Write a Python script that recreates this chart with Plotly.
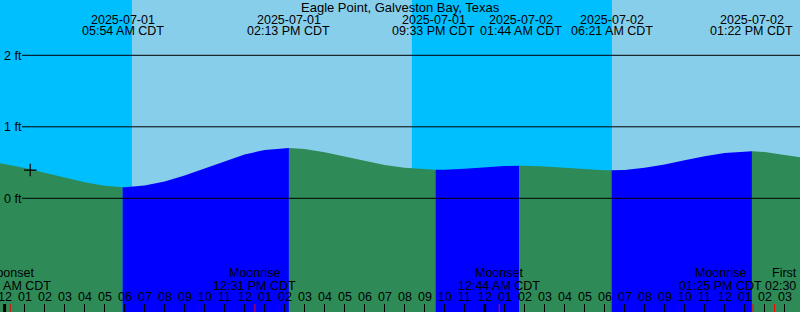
import plotly.graph_objects as go

# ---------------- data (hours since 2025-07-01 00:00 CDT) ----------------
station = "Eagle Point, Galveston Bay, Texas"

sample_hours = [-0.23, 0, 1, 2, 3, 4, 5, 6, 7, 8, 9, 10, 11, 12, 13, 14, 15, 16, 17, 18, 19,
                20, 21, 22, 23, 24, 25, 26, 27, 28, 29, 30, 31, 32, 33, 34, 35, 36, 37, 38, 39, 39.77]
sample_levels = [0.490, 0.480, 0.424, 0.357, 0.287, 0.224, 0.176, 0.154, 0.178, 0.234, 0.319,
                 0.417, 0.522, 0.613, 0.676, 0.702, 0.690, 0.643, 0.582, 0.517, 0.466,
                 0.428, 0.404, 0.401, 0.415, 0.435, 0.452, 0.456, 0.445, 0.425, 0.404,
                 0.393, 0.397, 0.427, 0.474, 0.533, 0.589, 0.634, 0.656, 0.648, 0.606, 0.573]

tide_hours = [5.9, 14.217, 21.55, 25.733, 30.35, 37.367]
tide_levels = [0.154, 0.703, 0.400, 0.456, 0.392, 0.657]
tide_dates = ["2025-07-01", "2025-07-01", "2025-07-01", "2025-07-02", "2025-07-02", "2025-07-02"]
tide_times = ["05:54 AM CDT", "02:13 PM CDT", "09:33 PM CDT", "01:44 AM CDT", "06:21 AM CDT", "01:22 PM CDT"]

sun_hours = [6.367, 20.367, 30.367]          # sunrise, sunset, sunrise

moon_hours = [0.283, 12.517, 24.733, 37.417, 38.5]
moon_names = ["Moonset", "Moonrise", "Moonset", "Moonrise", "First Quarter"]
moon_times = ["12:17 AM CDT", "12:31 PM CDT", "12:44 AM CDT", "01:25 PM CDT", "02:30 PM CDT"]

hour_ticks = list(range(0, 41))
hour_labels = ["12", "01", "02", "03", "04", "05", "06", "07", "08", "09", "10", "11",
               "12", "01", "02", "03", "04", "05", "06", "07", "08", "09", "10", "11",
               "12", "01", "02", "03", "04", "05", "06", "07", "08", "09", "10", "11",
               "12", "01", "02", "03", "04"]
midnight_hours = [0, 24]

level_ticks = [0, 1, 2]
level_labels = ["0 ft", "1 ft", "2 ft"]

now_hour = 1.28
now_level = 0.395

# ---------------- style ----------------
X_RANGE = [-0.23, 39.77]
Y_RANGE = [-1.5902, 2.7734]
W, H = 800, 312
NIGHT = "#00BFFF"
DAY = "#87CEEB"
FLOOD = "#0000FF"
EBB = "#2E8B57"
FONT = dict(family="Liberation Sans, Arial, sans-serif", size=12.5, color="black")
TITLE_FONT = dict(family="Liberation Sans, Arial, sans-serif", size=13, color="black")
tide_shift = [0, 0, -2, 2, 0, 0]
moon_shift = [0, 0, 0, -32, 32]


def ypaper(px):
    return 1 - px / H


fig = go.Figure()

# tide curve filled segments (rising = flood blue, falling = ebb green)
pts = sorted(list(zip(sample_hours, sample_levels)) + list(zip(tide_hours, tide_levels)))
edges = [X_RANGE[0]] + tide_hours + [X_RANGE[1]]
ybot = Y_RANGE[0] - 1
for a, b in zip(edges[:-1], edges[1:]):
    seg = [p for p in pts if a <= p[0] <= b]
    xs = [p[0] for p in seg]
    ys = [p[1] for p in seg]
    rising = ys[-1] > ys[0]
    fig.add_trace(go.Scatter(
        x=xs + [b, a], y=ys + [ybot, ybot], mode="lines", fill="toself",
        fillcolor=FLOOD if rising else EBB, line=dict(width=0), hoverinfo="skip",
        showlegend=False))

# current-time marker
fig.add_trace(go.Scatter(x=[now_hour], y=[now_level], mode="markers",
                         marker=dict(symbol="cross-thin", size=9, line=dict(width=1.2, color="black")),
                         showlegend=False, hoverinfo="skip"))

shapes = []
# sky: night / day bands
sky_edges = [X_RANGE[0] - 1] + sun_hours + [X_RANGE[1] + 1]
for i, (a, b) in enumerate(zip(sky_edges[:-1], sky_edges[1:])):
    shapes.append(dict(type="rect", xref="x", yref="paper", x0=a, x1=b, y0=0, y1=1,
                       fillcolor=NIGHT if i % 2 == 0 else DAY, line=dict(width=0), layer="below"))
# level lines
for lv in level_ticks:
    shapes.append(dict(type="line", xref="paper", yref="y", x0=22 / W, x1=1, y0=lv, y1=lv,
                       line=dict(color="black", width=1), layer="above"))
# midnight ticks
for mh in midnight_hours:
    shapes.append(dict(type="line", xref="x", yref="paper", x0=mh, x1=mh, y0=0, y1=8 / H,
                       line=dict(color="black", width=3), layer="above"))
# moon event ticks
for mh in moon_hours:
    shapes.append(dict(type="line", xref="x", yref="paper", x0=mh, x1=mh, y0=0, y1=8 / H,
                       line=dict(color="red", width=1), layer="above"))

annotations = [dict(text=station, xref="paper", yref="paper", x=0.5, y=ypaper(7.2),
                    xanchor="center", yanchor="middle", showarrow=False, font=TITLE_FONT)]
for h, d, t, s in zip(tide_hours, tide_dates, tide_times, tide_shift):
    annotations.append(dict(text=d, xref="x", yref="paper", x=h, y=ypaper(19.5), xshift=s,
                            xanchor="center", yanchor="middle", showarrow=False, font=FONT))
    annotations.append(dict(text=t, xref="x", yref="paper", x=h, y=ypaper(31.3), xshift=s,
                            xanchor="center", yanchor="middle", showarrow=False, font=FONT))
for h, n, t, s in zip(moon_hours, moon_names, moon_times, moon_shift):
    annotations.append(dict(text=n, xref="x", yref="paper", x=h, y=ypaper(273.3), xshift=s,
                            xanchor="center", yanchor="middle", showarrow=False, font=FONT))
    annotations.append(dict(text=t, xref="x", yref="paper", x=h, y=ypaper(285.5), xshift=s,
                            xanchor="center", yanchor="middle", showarrow=False, font=FONT))
# hour labels along the time axis
for h, lab in zip(hour_ticks, hour_labels):
    annotations.append(dict(text=lab, xref="x", yref="paper", x=h, y=ypaper(297.2),
                            xanchor="center", yanchor="middle", showarrow=False, font=FONT))

fig.update_layout(
    width=W, height=H, margin=dict(l=0, r=0, t=0, b=0), autosize=False,
    paper_bgcolor=NIGHT, plot_bgcolor=NIGHT, showlegend=False,
    font=FONT, shapes=shapes, annotations=annotations,
    xaxis=dict(range=X_RANGE, fixedrange=True, showgrid=False, zeroline=False, showline=False,
               tickmode="array", tickvals=hour_ticks, showticklabels=False,
               ticks="inside", ticklen=8, tickwidth=1, tickcolor="black"),
    yaxis=dict(range=Y_RANGE, fixedrange=True, showgrid=False, zeroline=False, showline=False,
               tickmode="array", tickvals=level_ticks, ticktext=level_labels, ticks="",
               ticklabelposition="inside", ticklabelstandoff=1, tickfont=FONT),
)

fig.write_html("out.html")
